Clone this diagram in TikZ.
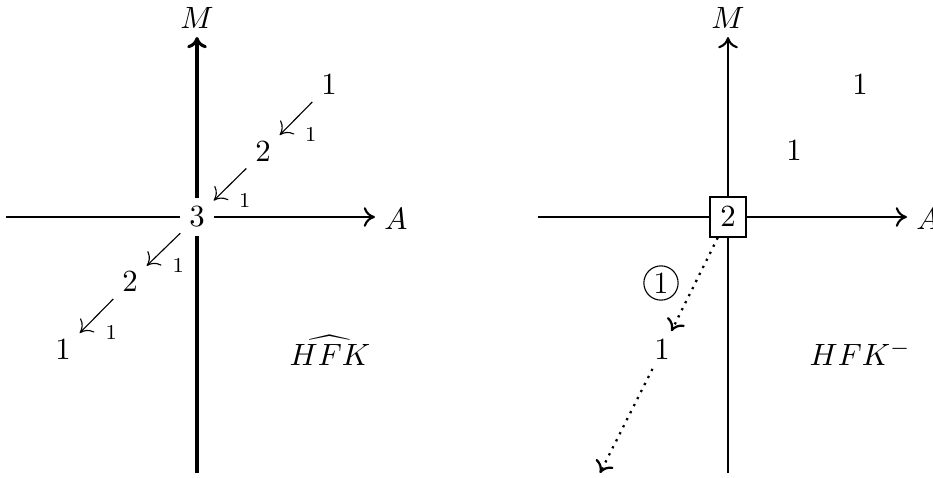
\documentclass[tikz,border=0pt]{standalone}
\usetikzlibrary{arrows.meta, positioning}

\begin{document}
\begin{tikzpicture}[x=0.0125cm, y=-0.0125cm, font=\fontsize{11}{13}\selectfont, inner sep=3pt,
    haxis/.style={line width=0.75pt, -{To[length=4pt, width=7pt]}},
    vaxis/.style={line width=1.1pt, -{To[length=4pt, width=7pt]}},
    plainaxis/.style={line width=0.75pt},
    diffarrow/.style={thin, -{To[length=4pt, width=7pt]}},
    lifted/.style={dotted, line width=0.8pt, -{To[length=4pt, width=7pt]}},
    weight/.style={midway, below right, font=\fontsize{7.5}{9}\selectfont, inner sep=3pt},
    boxed/.style={draw, line width=0.75pt, minimum width=0.44cm, minimum height=0.49cm, inner sep=0pt}]
\useasboundingbox (0,0) rectangle (933,477);

% left diagram
\node (lc) at (197,217) {$3$};
\node (lu2) at (263,152) {$2$};
\node (lu1) at (329,85) {$1$};
\node (ld2) at (130,282) {$2$};
\node (ld1) at (63,350) {$1$};
\coordinate (lw) at (6,217);
\coordinate (le) at (375,217);
\coordinate (ln) at (197,37);
\coordinate (ls) at (197,473);
\node (lM) at (197,18) {$M$};
\node (lA) at (396,219) {$A$};
\node (lname) at (330,350) {$\widehat{HFK}$};

\draw[plainaxis] (lw) -- (lc);
\draw[haxis] (lc) -- (le);
\draw[line width=1.1pt] (ls) -- (lc);
\draw[vaxis] (lc) -- (ln);

\draw[diffarrow] (lu1) -- (lu2) node[weight] {1};
\draw[diffarrow] (lu2) -- (lc) node[weight] {1};
\draw[diffarrow] (lc) -- (ld2) node[weight] {1};
\draw[diffarrow] (ld2) -- (ld1) node[weight] {1};

% right diagram
\node[boxed] (rc) at (728,217) {$2$};
\node (ru1) at (860,85) {$1$};
\node (rm1) at (794,151) {$1$};
\node (rd1) at (662,350) {$1$};
\node[circle, draw, thin, inner sep=1.1pt] (circ) at (661,283) {1};
\coordinate (rw) at (538,217);
\coordinate (re) at (907,217);
\coordinate (rn) at (728,37);
\coordinate (rs) at (728,473);
\coordinate (rend) at (600,473);
\node (rM) at (728,18) {$M$};
\node (rA) at (928,219) {$A$};
\node (rname) at (860,353) {$HFK^-$};

\draw[plainaxis] (rw) -- (rc);
\draw[haxis] (rc) -- (re);
\draw[plainaxis] (rs) -- (rc);
\draw[haxis] (rc) -- (rn);

\draw[lifted] (rc) -- (rd1);
\draw[lifted] (rd1) -- (rend);
\end{tikzpicture}
\end{document}
